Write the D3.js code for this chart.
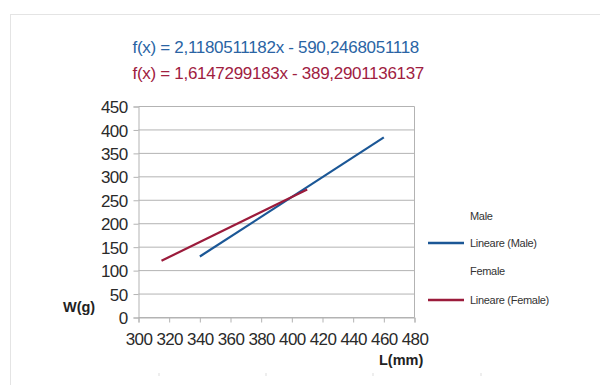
<!DOCTYPE html>
<html><head><meta charset="utf-8">
<script src="https://cdn.jsdelivr.net/npm/d3@7/dist/d3.min.js"></script>
<style>body{margin:0;background:#fff;} svg{display:block;font-family:"Liberation Sans",Arial,sans-serif;}</style>
</head><body>
<svg id="c" width="600" height="385"></svg>
<script>
const maleL = [340, 460];
const maleW = [130, 384];
const femaleL = [315, 410];
const femaleW = [121, 273];
const xTicks = [300, 320, 340, 360, 380, 400, 420, 440, 460, 480];
const yTicks = [0, 50, 100, 150, 200, 250, 300, 350, 400, 450];
const equations = ["f(x) = 2,1180511182x - 590,2468051118", "f(x) = 1,6147299183x - 389,2901136137"];
const legendItems = [
  {label: "Male", line: false},
  {label: "Lineare (Male)", line: true, s: 0},
  {label: "Female", line: false},
  {label: "Lineare (Female)", line: true, s: 1}
];
const colors = ["#1b5796", "#9b1b3b"];
const eqColors = ["#2a64a4", "#a0203f"];

const svg = d3.select("#c");
// outer frame
svg.append("rect").attr("x", 10.5).attr("y", 14.5).attr("width", 620).attr("height", 400)
  .attr("fill", "none").attr("stroke", "#e4e4e4");

const x = d3.scaleLinear().domain([300, 480]).range([138.5, 414.5]);
const y = d3.scaleLinear().domain([0, 450]).range([317.5, 106.5]);

// gridlines
svg.append("g").selectAll("line").data(yTicks).join("line")
  .attr("x1", x(300)).attr("x2", x(480)).attr("y1", d => y(d)).attr("y2", d => y(d))
  .attr("stroke", "#b3b3b3").attr("stroke-width", 1);
// right border
svg.append("line").attr("x1", x(480)).attr("x2", x(480)).attr("y1", y(450)).attr("y2", y(0)).attr("stroke", "#b3b3b3");

const xAxis = svg.append("g").attr("transform", `translate(0,${y(0)})`)
  .call(d3.axisBottom(x).tickValues(xTicks).tickSize(5).tickPadding(8).tickFormat(d3.format("d")));
const yAxis = svg.append("g").attr("transform", `translate(${x(300)},0)`)
  .call(d3.axisLeft(y).tickValues(yTicks).tickSize(5).tickPadding(6).tickFormat(d3.format("d")));
[xAxis, yAxis].forEach(g => {
  g.select(".domain").attr("stroke", "#b3b3b3");
  g.selectAll(".tick line").attr("stroke", "#b3b3b3");
  g.selectAll("text").attr("fill", "#2a2a2a").style("font-size", "17px").style("letter-spacing", "-0.6px")
   .style("font-family", '"Liberation Sans",Arial,sans-serif');
});
xAxis.selectAll("text").attr("dy", "0.85em");
yAxis.selectAll("text").attr("dy", "0.36em");

// lines
const line = d3.line().x(d => x(d[0])).y(d => y(d[1]));
const series = [d3.zip(maleL, maleW), d3.zip(femaleL, femaleW)];
series.forEach((s, i) => {
  svg.append("path").datum(s).attr("d", line).attr("fill", "none")
    .attr("stroke", colors[i]).attr("stroke-width", 2.2);
});

// equations
equations.forEach((e, i) => {
  svg.append("text").attr("x", 132.5).attr("y", 52.5 + i * 26.5).text(e)
    .attr("fill", eqColors[i]).style("font-size", "17px").style("letter-spacing", "-0.3px");
});

// axis titles
svg.append("text").attr("x", 63).attr("y", 311.5).text("W(g)").attr("font-weight", "bold")
  .style("font-size", "14.5px").attr("fill", "#222");
svg.append("text").attr("x", 379).attr("y", 365).text("L(mm)").attr("font-weight", "bold")
  .style("font-size", "14.5px").attr("fill", "#222");

// legend
const rowY = [216, 243, 271, 300];
legendItems.forEach((it, i) => {
  if (it.line) {
    svg.append("line").attr("x1", 428).attr("x2", 464).attr("y1", rowY[i]).attr("y2", rowY[i])
      .attr("stroke", colors[it.s]).attr("stroke-width", 2.5);
  }
  svg.append("text").attr("x", 470).attr("y", rowY[i]).attr("dy", "0.35em").text(it.label)
    .style("font-size", "11px").style("letter-spacing", "-0.3px").attr("fill", "#333");
});

// faint bottom marks
[159, 266, 373, 481].forEach(px => {
  svg.append("line").attr("x1", px).attr("x2", px).attr("y1", 373).attr("y2", 376).attr("stroke", "#ddd");
});
</script>
</body></html>
